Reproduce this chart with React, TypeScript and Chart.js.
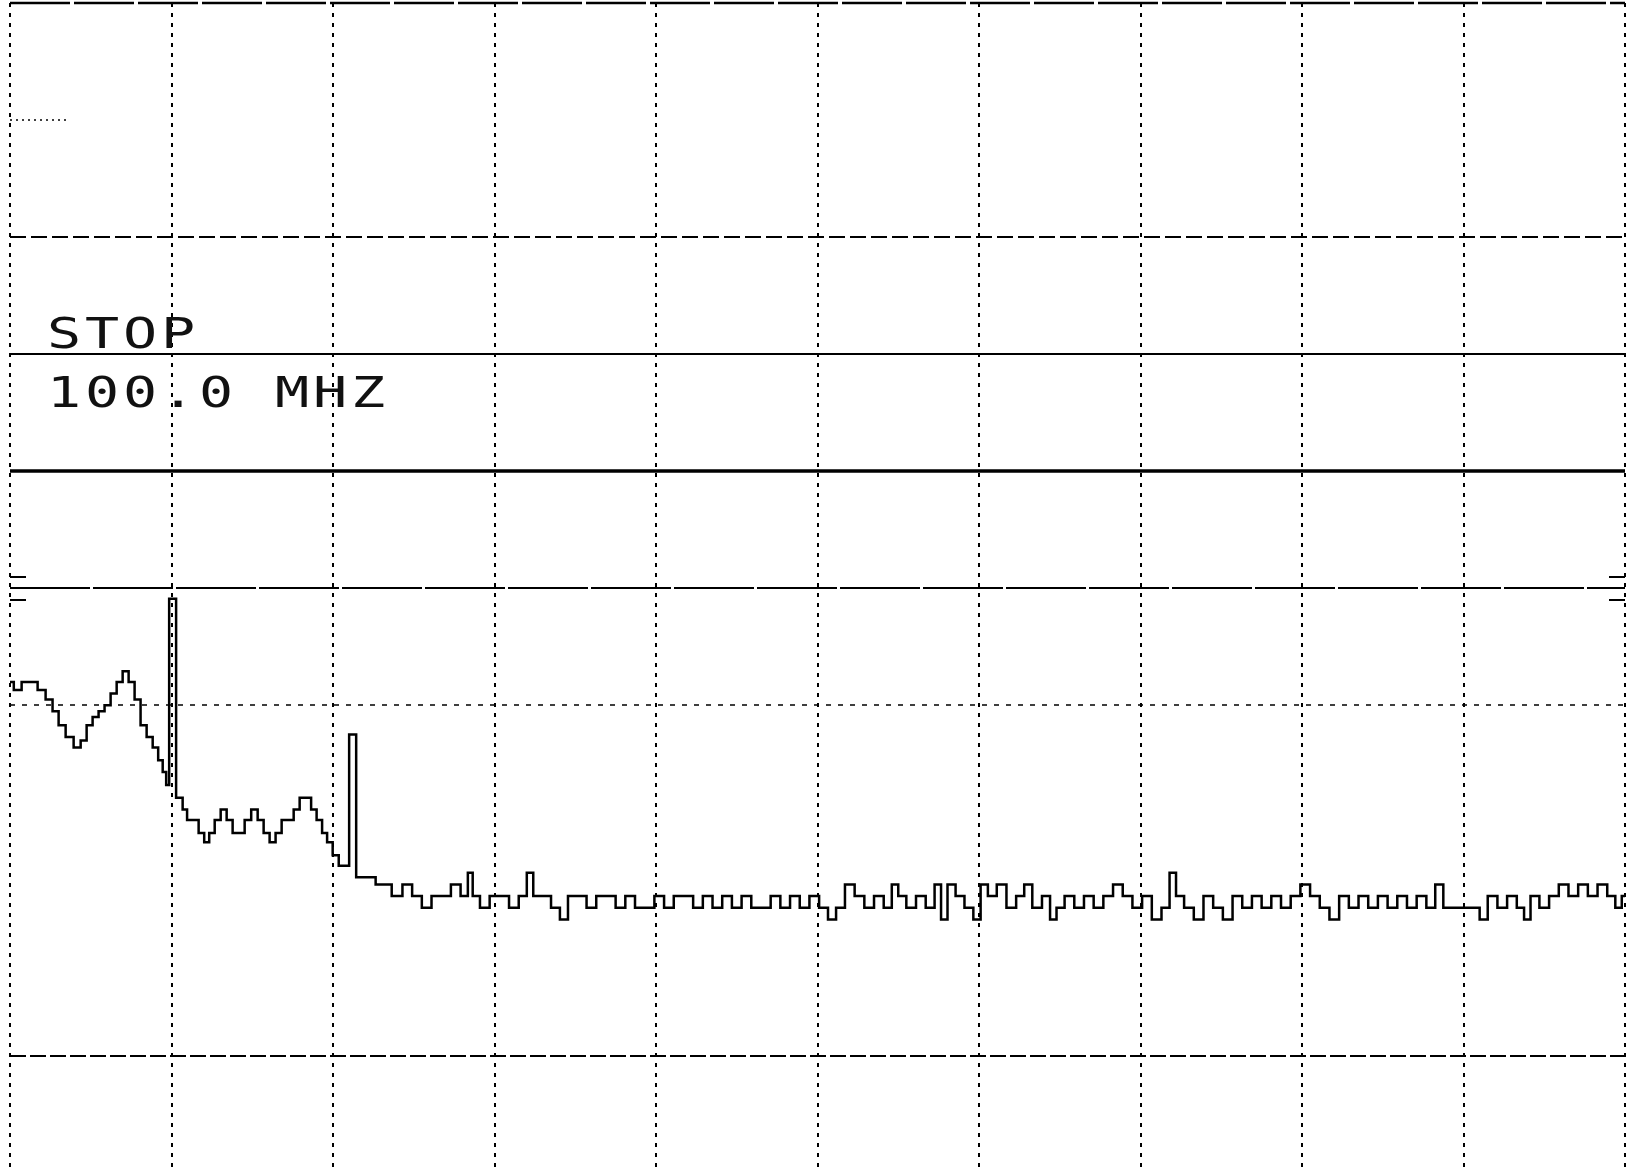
import React, { useEffect, useRef } from "react";
import { Chart, registerables } from "chart.js";

Chart.register(...registerables);

// ---- axis definition (spectrum analyzer screen, 10 x 10 divisions) ----
const START_MHZ = 0;
const STOP_MHZ = 100;
const REF_LEVEL_DB = 0;
const BOTTOM_LEVEL_DB = -99.7;

const verticalDivisionsMHz = [0, 10, 20, 30, 40, 50, 60, 70, 80, 90, 100];
const horizontalDivisionsDb = [0, -10, -20, -30, -40, -50, -60, -90];
const referenceMarksDb = [-49, -51];

const annotationLine1 = "STOP";
const annotationLine2 = "100.0 MHZ";

// ---- measured trace (frequency in MHz, level in dB) ----
const traceFreqMHz = [
  0.0, 0.47, 0.97, 1.46, 1.96, 2.45, 2.82, 3.2, 3.69, 4.19,
  4.56, 4.93, 5.3, 5.67, 6.04, 6.42, 6.79, 7.16, 7.53, 7.9,
  8.27, 8.65, 9.02, 9.33, 9.58, 9.76, 9.95, 10.19, 10.38,
  10.57, 10.81, 11.12, 11.49, 11.87, 12.18, 12.49, 12.86, 13.23, 13.6,
  13.97, 14.34, 14.72, 15.15, 15.52, 15.89, 16.26, 16.63, 17.01, 17.38,
  17.75, 18.12, 18.49, 18.8, 19.17, 19.48, 19.79, 20.17, 20.54, 20.91,
  21.09, 21.34, 21.53, 21.96, 22.39, 22.89, 23.39, 23.88,
  24.0, 24.6, 25.2, 25.8, 26.4, 27.0, 27.6, 28.2, 28.5, 28.8,
  29.4, 30.0, 30.6, 31.2, 31.8, 32.2, 32.6, 33.2, 33.8, 34.3,
  34.8, 35.4, 36.0, 36.6, 37.2, 37.8, 38.4, 39.0, 39.6, 40.2,
  40.8, 41.4, 42.0, 42.6, 43.2, 43.8, 44.4, 45.0, 45.6, 46.2,
  46.8, 47.4, 48.0, 48.6, 49.2, 49.8, 50.4, 50.9, 51.4, 52.0,
  52.6, 53.2, 53.8, 54.4, 54.8, 55.2, 55.8, 56.4, 57.0, 57.5,
  57.8, 58.3, 58.8, 59.4, 59.9, 60.3, 60.8, 61.4, 62.0, 62.6,
  63.0, 63.6, 64.2, 64.6, 65.0, 65.6, 66.2, 66.8, 67.4, 68.0,
  68.6, 69.2, 69.8, 70.4, 71.0, 71.6, 72.0, 72.4, 73.0, 73.6,
  74.2, 74.8, 75.4, 76.0, 76.6, 77.2, 77.8, 78.4, 79.0, 79.6,
  80.2, 80.8, 81.4, 82.0, 82.6, 83.2, 83.8, 84.4, 85.0, 85.6,
  86.2, 86.8, 87.4, 88.0, 88.5, 89.0, 89.6, 90.2, 90.8, 91.2,
  91.8, 92.4, 93.0, 93.6, 93.9, 94.4, 95.0, 95.6, 96.2, 96.8,
  97.4, 98.0, 98.6, 99.2, 99.6, 100.0,
];

const traceLevelDb = [
  -58.0, -58.7, -58.0, -58.0, -58.7, -59.5, -60.5, -61.7, -62.7, -63.6,
  -63.0, -61.7, -61.0, -60.5, -60.0, -59.0, -58.0, -57.1, -58.0, -59.5,
  -61.7, -62.7, -63.6, -64.7, -65.7, -66.8, -50.9, -50.9, -67.9,
  -67.9, -68.9, -69.8, -69.8, -70.9, -71.7, -70.9, -69.8, -68.9, -69.8,
  -70.9, -70.9, -69.8, -68.9, -69.8, -70.9, -71.7, -70.9, -69.8, -69.8,
  -68.9, -67.9, -67.9, -68.9, -69.8, -70.9, -71.7, -72.8, -73.7, -73.7,
  -62.5, -62.5, -74.7, -74.7, -74.7, -75.3, -75.3, -76.3,
  -76.3, -75.3, -76.3, -77.3, -76.3, -76.3, -75.3, -76.3, -74.3, -76.3,
  -77.3, -76.3, -76.3, -77.3, -76.3, -74.3, -76.3, -76.3, -77.3, -78.3,
  -76.3, -76.3, -77.3, -76.3, -76.3, -77.3, -76.3, -77.3, -77.3, -76.3,
  -77.3, -76.3, -76.3, -77.3, -76.3, -77.3, -76.3, -77.3, -76.3, -77.3,
  -77.3, -76.3, -77.3, -76.3, -77.3, -76.3, -77.3, -78.3, -77.3, -75.3,
  -76.3, -77.3, -76.3, -77.3, -75.3, -76.3, -77.3, -76.3, -77.3, -75.3,
  -78.3, -75.3, -76.3, -77.3, -78.3, -75.3, -76.3, -75.3, -77.3, -76.3,
  -75.3, -77.3, -76.3, -78.3, -77.3, -76.3, -77.3, -76.3, -77.3, -76.3,
  -75.3, -76.3, -77.3, -76.3, -78.3, -77.3, -74.3, -76.3, -77.3, -78.3,
  -76.3, -77.3, -78.3, -76.3, -77.3, -76.3, -77.3, -76.3, -77.3, -76.3,
  -75.3, -76.3, -77.3, -78.3, -76.3, -77.3, -76.3, -77.3, -76.3, -77.3,
  -76.3, -77.3, -76.3, -77.3, -75.3, -77.3, -77.3, -77.3, -77.3, -78.3,
  -76.3, -77.3, -76.3, -77.3, -78.3, -76.3, -77.3, -76.3, -75.3, -76.3,
  -75.3, -76.3, -75.3, -76.3, -77.3, -76.3,
];

type LineStyle = { width: number; dash: number[]; toMHz?: number };
const horizontalStyles: Record<string, LineStyle> = {
  "0": { width: 2.5, dash: [60, 4] },
  "-10": { width: 1.5, dash: [2, 4], toMHz: 3.7 },
  "-20": { width: 2, dash: [16, 5] },
  "-30": { width: 2, dash: [] },
  "-40": { width: 3.5, dash: [] },
  "-50": { width: 2, dash: [80, 3] },
  "-60": { width: 1.5, dash: [5, 7] },
  "-90": { width: 2, dash: [16, 4] },
};

const screenPlugin = {
  id: "screenPlugin",
  beforeDatasetsDraw(chart: any) {
    const { ctx, chartArea: a, scales } = chart;
    const xs = scales.x;
    const ys = scales.y;
    ctx.save();
    ctx.strokeStyle = "#000";
    // vertical division lines
    ctx.lineWidth = 2;
    ctx.setLineDash([4, 6]);
    for (const f of verticalDivisionsMHz) {
      const px = Math.round(xs.getPixelForValue(f));
      ctx.beginPath();
      ctx.moveTo(px, a.top);
      ctx.lineTo(px, a.bottom);
      ctx.stroke();
    }
    // horizontal division lines
    for (const db of horizontalDivisionsDb) {
      const st = horizontalStyles[String(db)];
      const py = Math.round(ys.getPixelForValue(db));
      ctx.lineWidth = st.width;
      ctx.setLineDash(st.dash);
      ctx.beginPath();
      ctx.moveTo(a.left, py);
      ctx.lineTo(st.toMHz !== undefined ? xs.getPixelForValue(st.toMHz) : a.right, py);
      ctx.stroke();
    }
    // reference level marks at both edges
    ctx.setLineDash([]);
    ctx.lineWidth = 2;
    for (const db of referenceMarksDb) {
      const py = Math.round(ys.getPixelForValue(db));
      ctx.beginPath();
      ctx.moveTo(a.left, py);
      ctx.lineTo(a.left + 16, py);
      ctx.moveTo(a.right - 16, py);
      ctx.lineTo(a.right, py);
      ctx.stroke();
    }
    ctx.restore();
  },
  afterDraw(chart: any) {
    const { ctx, chartArea: a } = chart;
    ctx.save();
    ctx.fillStyle = "#111";
    ctx.font = '42px "DejaVu Sans Mono"';
    ctx.textAlign = "center";
    ctx.textBaseline = "alphabetic";
    const pitch = 38;
    const x0 = a.left + 54;
    const drawRow = (text: string, baseline: number) => {
      for (let i = 0; i < text.length; i++) {
        const cx = x0 + i * pitch;
        ctx.save();
        ctx.translate(cx, baseline);
        ctx.scale(1.35, 1);
        ctx.fillText(text[i], 0, 0);
        ctx.restore();
      }
    };
    drawRow(annotationLine1, 348);
    drawRow(annotationLine2, 407);
    ctx.restore();
  },
};

export default function App() {
  const ref = useRef<HTMLCanvasElement | null>(null);
  useEffect(() => {
    if (!ref.current) return;
    const points = traceFreqMHz.map((f, i) => ({ x: f, y: traceLevelDb[i] }));
    const chart = new Chart(ref.current, {
      type: "line",
      data: {
        datasets: [
          {
            label: "Trace",
            data: points,
            borderColor: "#000",
            borderWidth: 2.5,
            pointRadius: 0,
            stepped: "middle",
            fill: false,
          },
        ],
      },
      options: {
        animation: false,
        responsive: false,
        devicePixelRatio: 1,
        layout: { padding: { left: 10, right: 3, top: 3, bottom: 0 } },
        plugins: { legend: { display: false }, tooltip: { enabled: false } },
        scales: {
          x: { type: "linear", min: START_MHZ, max: STOP_MHZ, display: false },
          y: { type: "linear", min: BOTTOM_LEVEL_DB, max: REF_LEVEL_DB, display: false },
        },
      },
      plugins: [screenPlugin],
    });
    return () => chart.destroy();
  }, []);
  return (
    <div style={{ position: "fixed", left: 0, top: 0, width: 1628, height: 1170, background: "#fff" }}>
      <canvas ref={ref} width={1628} height={1170} style={{ display: "block" }} />
    </div>
  );
}
